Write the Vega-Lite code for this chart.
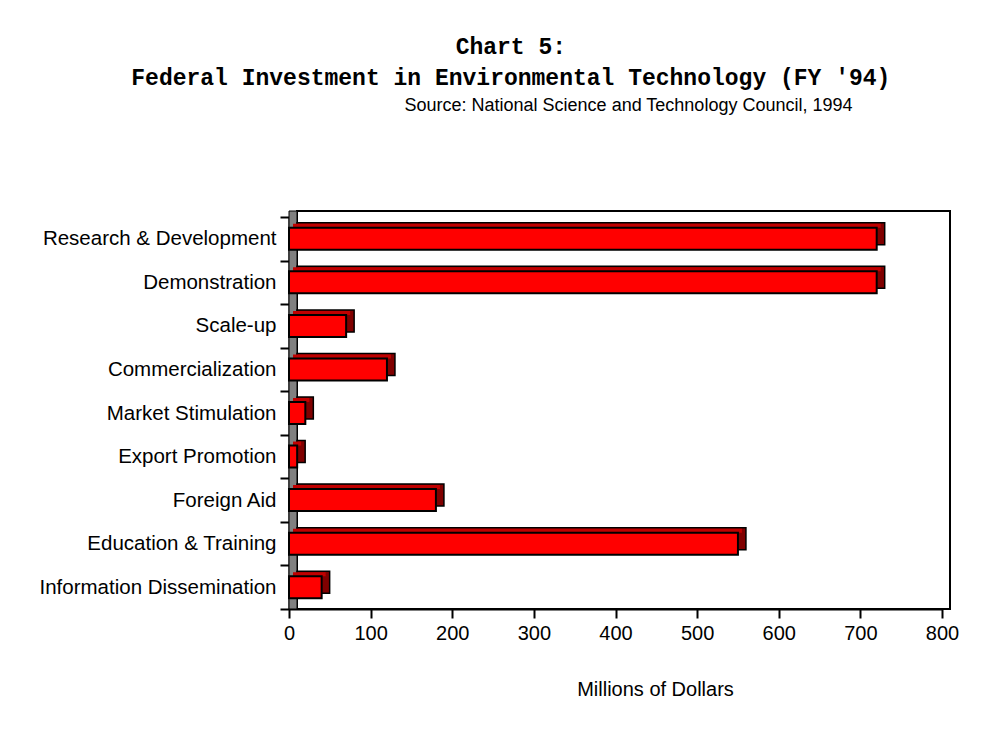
{
  "$schema": "https://vega.github.io/schema/vega-lite/v6.json",
  "width": 653,
  "height": 392,
  "autosize": {"type": "none"},
  "padding": {"left": 289, "top": 217, "right": 63, "bottom": 136},
  "background": "white",
  "title": {
    "text": ["Chart 5:", "Federal Investment in Environmental Technology (FY '94)"],
    "font": "Liberation Mono",
    "fontSize": 23,
    "fontWeight": "bold",
    "color": "black",
    "anchor": "middle",
    "frame": "bounds",
    "lineHeight": 31,
    "offset": 6,
    "dx": 12
  },
  "data": {
    "values": [
      {"category": "Research & Development", "value": 720},
      {"category": "Demonstration", "value": 720},
      {"category": "Scale-up", "value": 70},
      {"category": "Commercialization", "value": 120},
      {"category": "Market Stimulation", "value": 20},
      {"category": "Export Promotion", "value": 10},
      {"category": "Foreign Aid", "value": 180},
      {"category": "Education & Training", "value": 550},
      {"category": "Information Dissemination", "value": 40}
    ]
  },
  "config": {
    "view": {"stroke": null},
    "font": "Liberation Sans"
  },
  "resolve": {"axis": {"x": "independent"}},
  "layer": [
    {
      "data": {"values": [{"part": "back wall"}]},
      "mark": {"type": "rect", "fill": "white", "stroke": "black", "strokeWidth": 2, "xOffset": 8, "x2Offset": 8, "yOffset": -6, "y2Offset": -6},
      "encoding": {
        "x": {
          "datum": 0,
          "type": "quantitative",
          "scale": {"domain": [0, 800], "nice": false, "zero": true},
          "axis": {
            "orient": "top",
            "domain": false,
            "ticks": false,
            "labels": false,
            "grid": false,
            "title": "Source: National Science and Technology Council, 1994",
            "titleFont": "Liberation Sans",
            "titleFontSize": 18,
            "titleFontWeight": "normal",
            "titleColor": "black",
            "titleX": 339,
            "titleY": -107,
            "titleAlign": "center",
            "titleBaseline": "alphabetic"
          }
        },
        "x2": {"datum": 800}
      }
    },
    {
      "data": {"values": [{"part": "side wall"}]},
      "mark": {"type": "rect", "fill": "#808080", "stroke": "black", "strokeWidth": 1, "x2Offset": 8, "yOffset": -6},
      "encoding": {
        "x": {"datum": 0, "type": "quantitative", "axis": null},
        "x2": {"datum": 0}
      }
    },
    {
      "mark": {"type": "bar", "fill": "#800000", "stroke": "black", "strokeWidth": 1.5, "size": 22, "xOffset": 8, "x2Offset": 8, "yOffset": -5},
      "encoding": {
        "y": {"field": "category", "type": "nominal", "sort": null, "scale": {"paddingInner": 0, "paddingOuter": 0}, "title": null},
        "x": {"field": "value", "type": "quantitative", "axis": null}
      }
    },
    {
      "mark": {"type": "bar", "fill": "#C00000", "strokeWidth": 0, "size": 4, "xOffset": 4, "x2Offset": 4, "yOffset": -13},
      "encoding": {
        "y": {"field": "category", "type": "nominal", "sort": null, "title": null},
        "x": {"field": "value", "type": "quantitative", "axis": null}
      }
    },
    {
      "mark": {"type": "bar", "fill": "#FF0000", "stroke": "black", "strokeWidth": 2, "size": 22},
      "encoding": {
        "y": {
          "field": "category",
          "type": "nominal",
          "sort": null,
          "axis": {
            "title": null,
            "domain": true,
            "domainColor": "black",
            "domainWidth": 2,
            "ticks": true,
            "tickBand": "extent",
            "tickSize": 9,
            "tickWidth": 2,
            "tickColor": "black",
            "labelFont": "Liberation Sans",
            "labelFontSize": 20.5,
            "labelColor": "black",
            "labelPadding": 4,
            "labelLimit": 0,
            "grid": false
          }
        },
        "x": {
          "field": "value",
          "type": "quantitative",
          "axis": {
            "orient": "bottom",
            "values": [0, 100, 200, 300, 400, 500, 600, 700, 800],
            "domain": true,
            "domainColor": "black",
            "domainWidth": 2,
            "tickColor": "black",
            "tickWidth": 2,
            "tickSize": 9,
            "labelFont": "Liberation Sans",
            "labelFontSize": 20,
            "labelColor": "black",
            "labelPadding": 5,
            "labelFlush": false,
            "grid": false,
            "title": "Millions of Dollars",
            "titleFont": "Liberation Sans",
            "titleFontSize": 20,
            "titleFontWeight": "normal",
            "titleColor": "black",
            "titleX": 366,
            "titleY": 70,
            "titleAlign": "center",
            "titleBaseline": "top"
          }
        }
      }
    }
  ]
}
